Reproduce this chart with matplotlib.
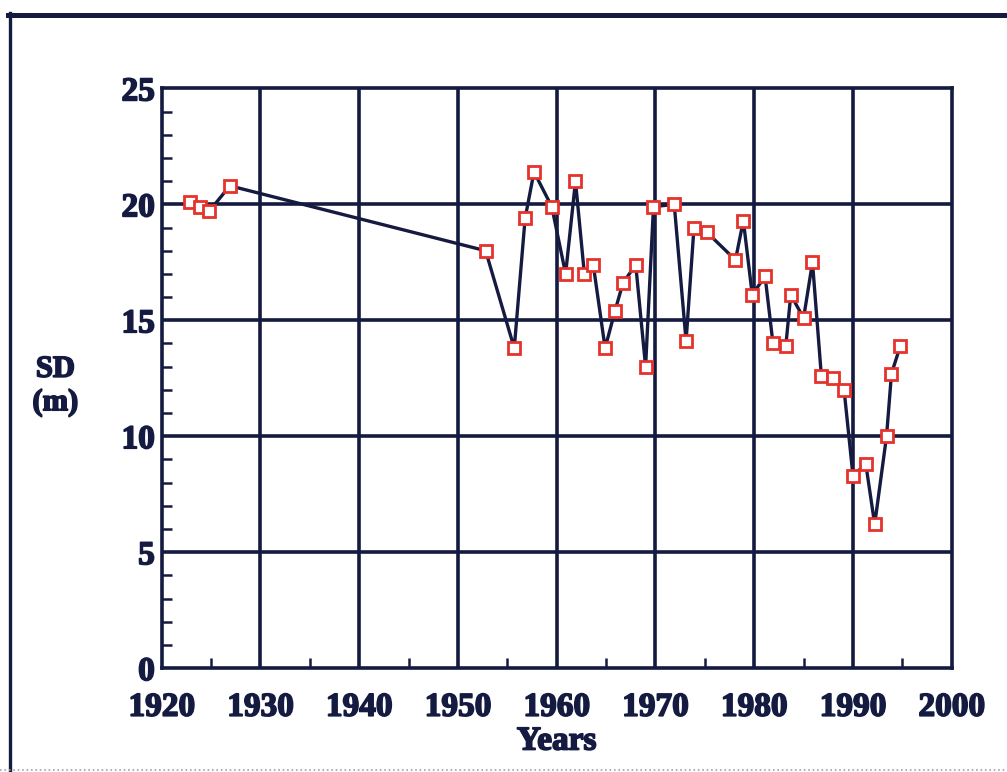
import matplotlib
matplotlib.use('Agg')
import matplotlib.pyplot as plt
import matplotlib.patheffects as pe
from matplotlib.lines import Line2D
from matplotlib.ticker import MultipleLocator

# данные: год и прозрачность (SD, м)
years = [1922.9, 1923.9, 1924.8, 1926.9, 1952.8, 1955.7, 1956.8, 1957.7, 1959.5,
         1960.9, 1961.9, 1962.8, 1963.7, 1964.9, 1965.9, 1966.7, 1968.0, 1969.0,
         1969.8, 1971.9, 1973.1, 1973.9, 1975.2, 1978.1, 1978.9, 1979.8, 1981.1,
         1981.9, 1983.2, 1983.7, 1985.0, 1985.9, 1986.8, 1988.0, 1989.1, 1990.0,
         1991.3, 1992.2, 1993.4, 1993.9, 1994.8]
sd = [20.1, 19.9, 19.7, 20.8, 18.0, 13.8, 19.4, 21.4, 19.9,
      17.0, 21.0, 17.0, 17.4, 13.8, 15.4, 16.6, 17.4, 13.0,
      19.9, 20.0, 14.1, 19.0, 18.8, 17.6, 19.3, 16.1, 16.9,
      14.0, 13.9, 16.1, 15.1, 17.5, 12.6, 12.5, 12.0, 8.3,
      8.8, 6.2, 10.0, 12.7, 13.9]

x_ticks = [1920, 1930, 1940, 1950, 1960, 1970, 1980, 1990, 2000]
y_ticks = [0, 5, 10, 15, 20, 25]

navy = '#141a40'
red = '#e5322b'
font = {'family': 'Liberation Serif', 'weight': 'bold', 'color': navy}
# обводка, чтобы текст был жирнее, как на скане
heavy = [pe.withStroke(linewidth=1.2, foreground=navy)]

fig = plt.figure(figsize=(10.07, 7.72), dpi=100)
ax = fig.add_axes([0.1606, 0.1345, 0.7845, 0.751])

# сетка
for x in x_ticks[1:-1]:
    ax.axvline(x, color=navy, lw=2.6, zorder=1)
for y in y_ticks[1:-1]:
    ax.axhline(y, color=navy, lw=2.6, zorder=1)

# линия с маркерами
ax.plot(years, sd, color=navy, lw=2.4, zorder=2)
ax.plot(years, sd, ls='none', marker='s', ms=9, mfc='white', mec=red, mew=2.0, zorder=3)

ax.set_xlim(1920, 2000)
ax.set_ylim(0, 25)
ax.set_xticks(x_ticks)
ax.set_yticks(y_ticks)
ax.set_xticklabels([str(v) for v in x_ticks], fontdict=font, fontsize=24)
ax.set_yticklabels([str(v) for v in y_ticks], fontdict=font, fontsize=24)
for t in ax.get_xticklabels() + ax.get_yticklabels():
    t.set_path_effects(heavy)
ax.xaxis.set_minor_locator(MultipleLocator(5))
ax.yaxis.set_minor_locator(MultipleLocator(1))
ax.tick_params(which='major', length=0, pad=17, axis='x')
ax.tick_params(which='major', length=0, pad=5, axis='y')
ax.tick_params(which='minor', direction='in', length=7, width=1.8, color=navy,
               top=False, right=False)
for s in ax.spines.values():
    s.set_color(navy)
    s.set_linewidth(2.6)

xl = ax.set_xlabel('Years', fontdict=font, fontsize=24, labelpad=2)
xl.set_path_effects(heavy)
fig.text(0.055, 0.5, 'SD\n(m)', fontdict=font, fontsize=22, ha='center', va='center',
         linespacing=1.2, path_effects=heavy)

# рамка картинки
fig.add_artist(Line2D([0.008, 1.0], [0.981, 0.981], color=navy, lw=3.6))
fig.add_artist(Line2D([0.010, 0.010], [0.0, 0.983], color=navy, lw=2.4))
fig.add_artist(Line2D([0.0, 1.0], [0.003, 0.003], color='#9aa0b8', lw=1.2, ls=':'))

fig.savefig('out.png', dpi=100)
